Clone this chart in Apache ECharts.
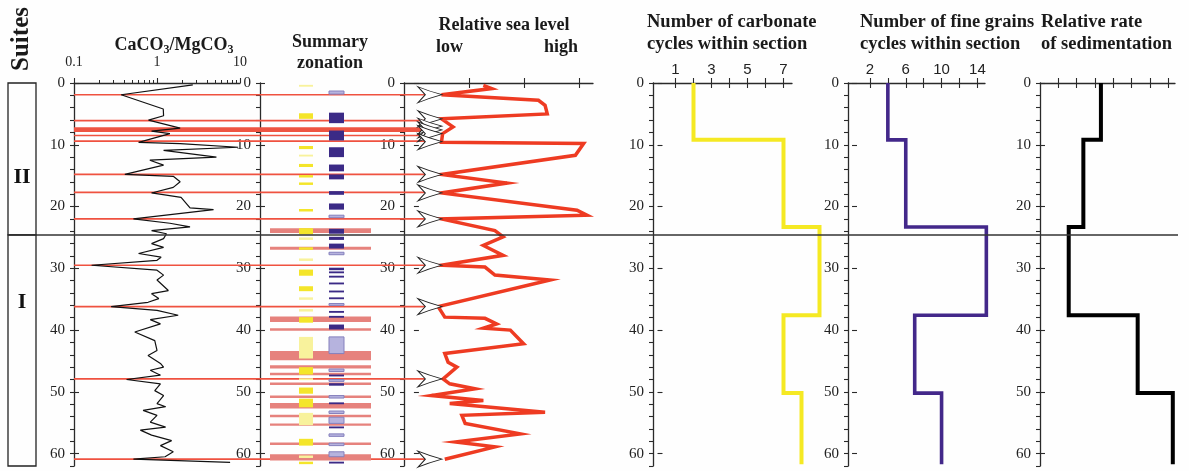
<!DOCTYPE html>
<html><head><meta charset="utf-8">
<script src="https://cdn.jsdelivr.net/npm/echarts@6/dist/echarts.min.js"></script>
<style>html,body{margin:0;padding:0;background:#fefefe}#c{width:1189px;height:471px}</style>
</head><body><div id="c"></div>
<script>
// ---------------- DATA ----------------
const DEPTH_MAX = 62;
const depthTickLabels = [0, 10, 20, 30, 40, 50, 60];
const suiteNames = ['II', 'I'];
const suiteIntervals = [[0, 24.6, 15.2], [24.6, 62, 35.5]]; // top, bottom, label depth

// CaCO3/MgCO3 ratio profile: [depth, ratio]
const caMgProfile = [
  [0.3,2.7],[1.9,0.37],[4.2,1.19],[5.3,1.2],[6.0,0.79],[7.3,1.9],[7.8,0.86],[8.2,1.43],[9.6,0.6],[9.8,1.9],
  [10.4,9.5],[10.9,1.2],[12.0,5.2],[12.5,0.82],[13.3,1.2],[14.8,0.41],[15.1,1.57],[16.0,1.9],[16.9,1.57],[17.8,0.86],
  [18.5,1.95],[20.2,2.5],[20.5,4.8],[22.0,0.52],[22.7,1.43],[23.3,2.5],[23.9,0.86],[24.4,1.3],[25.2,1.2],[26.0,0.86],
  [26.6,1.2],[27.6,0.6],[28.2,1.12],[28.7,1.0],[29.5,0.163],[30.3,1.0],[31.1,1.2],[31.9,1.0],[33.6,1.37],[34.1,0.86],
  [34.9,1.05],[35.5,0.78],[36.2,0.28],[36.8,1.0],[37.6,1.8],[38.3,0.83],[39.0,1.1],[40.3,0.54],[41.7,0.94],[43.3,1.0],
  [44.1,0.78],[45.4,1.1],[46.0,1.2],[46.5,0.83],[47.3,1.1],[48.0,0.43],[48.7,1.1],[49.8,0.94],[50.6,1.2],[51.9,1.0],
  [52.4,1.27],[53.0,0.68],[53.8,1.0],[54.9,0.83],[55.7,1.27],[56.2,0.63],[57.0,0.86],[57.9,1.5],[58.7,1.1],[59.7,1.57],
  [60.5,1.25],[60.9,0.52],[61.4,7.6]
];
const caMgTickLabels = [0.1, 1, 10];
const caMgMinorTicks = [0.2,0.3,0.4,0.5,0.6,0.7,0.8,0.9,2,3,4,5,6,7,8,9];

// Summary zonation intervals [top, bottom]
const yellowStrong = [[4.9,5.8],[10.2,10.7],[13.1,13.6],[14.9,15.3],[16.1,16.5],[20.4,20.8],[23.5,24.5],[26.6,27.0],
  [30.2,31.2],[32.9,33.7],[37.9,38.8],[46.0,47.2],[49.3,50.3],[51.1,52.5],[57.6,58.7],[61.3,61.7]];
const yellowPale = [[0.3,0.6],[11.6,11.9],[25.0,25.4],[28.4,28.8],[34.7,35.1],[36.6,37.0],[41.1,44.6],[47.8,48.1],
  [53.4,55.4],[60.3,60.7]];
const purpleStrong = [[4.8,6.5],[7.7,9.3],[10.4,12.0],[13.2,14.3],[14.8,15.6],[17.5,18.1],[19.5,20.5],[23.6,24.4],
  [24.9,25.4],[26.0,26.8],[29.9,30.3],[30.5,30.8],[31.2,31.5],[32.3,32.6],[33.6,33.9],[34.7,35.0],[36.9,37.2],
  [37.7,38.0],[39.1,39.9],[47.2,47.5],[48.6,49.0],[51.7,52.0],[55.6,55.9],[61.3,61.6]];
const purplePale = [[1.3,1.8],[21.4,21.8],[27.4,27.8],[35.7,36.0],[41.1,43.8],[46.3,46.7],[48.0,48.3],[50.6,51.0],
  [53.1,53.5],[54.1,55.1],[56.8,57.2],[58.3,58.7],[59.7,60.5]];
const pinkBars = [[23.5,24.3],[26.5,27.0],[37.8,38.7],[39.7,40.1],[43.4,44.9],[45.7,46.2],[46.9,47.3],[48.5,48.9],
  [50.6,51.0],[51.8,52.7],[53.7,54.1],[55.1,55.5],[58.2,58.6],[60.1,61.1]];

// Lowstand marker lines and band (depths)
const lowstandLines = [1.9, 6.1, 8.5, 9.4, 14.8, 17.7, 22.0, 29.5, 36.2, 47.9, 60.9];
const lowstandBand = [[7.15, 7.95]];

// Relative sea level: [depth, level]
const seaLevel = [
  [0.4,1.26],[0.9,1.41],[1.9,0.50],[2.8,2.26],[3.6,2.38],[5.0,2.42],[5.8,0.50],[7.1,0.71],[8.2,0.52],[9.6,0.50],
  [9.8,3.08],[11.7,2.93],[14.8,0.50],[16.2,1.69],[17.8,0.50],[20.6,2.96],[21.4,3.14],[22.0,0.50],[23.9,1.47],
  [24.9,1.62],[26.3,1.26],[27.9,1.62],[29.5,0.50],[29.8,1.29],[31.1,1.47],[31.9,2.47],[36.2,0.44],[37.9,0.56],
  [38.1,1.29],[39.0,1.50],[39.7,1.26],[40.0,1.75],[42.2,1.99],[43.8,0.56],[45.2,0.62],[46.0,0.78],[47.9,0.53],
  [48.7,0.65],[49.5,1.11],[50.6,0.32],[51.4,1.26],[51.9,0.65],[53.3,2.38],[53.8,0.87],[55.1,0.93],[56.8,1.93],
  [58.1,0.75],[58.9,1.47],[60.9,0.56]
];
const lowstandArrows = [1.9, 5.8, 7.0, 7.6, 8.2, 9.5, 14.8, 17.8, 22.0, 29.5, 36.2, 47.9, 60.9];

// Step profiles
const stepBreaks = [0, 9.2, 23.3, 37.6, 50.2, 61.7];
const carbonateCycles = [2, 7, 9, 7, 8];
const fineGrainCycles = [4, 6, 15, 7, 10];
const sedimentationRate = [3.33, 2.37, 1.57, 5.34, 7.26];
const carbonateTicks = [1, 2, 3, 4, 5, 6, 7];
const carbonateLabels = [1, 3, 5, 7];
const fineTicks = [2, 4, 6, 8, 10, 12, 14];
const fineLabels = [2, 6, 10, 14];
const rateTicks = [1, 2, 3, 4, 5, 6, 7];
const seaTicks = [1, 2, 3];

// ---------------- STYLE / LAYOUT ----------------
const SERIF = '"Liberation Serif", "DejaVu Serif", serif';
const SANS = '"Liberation Sans", Arial, sans-serif';
const AXIS = '#2a2a2a';
const TOP = 83, HEIGHT = 383;
const gridDefs = [
  {left: 74, width: 166},   // 0 CaCO3/MgCO3
  {left: 260, width: 144},  // 1 zonation
  {left: 404, width: 189},  // 2 sea level
  {left: 653, width: 139},  // 3 carbonate cycles (axes)
  {left: 848, width: 137},  // 4 fine grain cycles (axes)
  {left: 1040, width: 135}, // 5 sedimentation
  {left: 8, width: 28},     // 6 suites
  {left: 74, width: 352},   // 7 lowstand overlay
  {left: 8, width: 1170},   // 8 boundary overlay
  {left: 653, width: 180},  // 9 carbonate plot area (same scale, wider)
  {left: 848, width: 153}   // 10 fine grain plot area (same scale, wider)
];
const grid = gridDefs.map(g => ({left: g.left, width: g.width, top: TOP, height: HEIGHT, containLabel: false, outerBoundsMode: 'none'}));

const xAxes = [], yAxes = [];
const addX = c => (xAxes.push(c), xAxes.length - 1);
const addY = c => (yAxes.push(c), yAxes.length - 1);
const evens = []; for (let d = 0; d <= DEPTH_MAX; d += 2) evens.push(d);

function depthY(g, visible) {
  if (!visible) return addY({type: 'value', gridIndex: g, inverse: true, min: 0, max: DEPTH_MAX, show: false});
  const main = {type: 'value', gridIndex: g, inverse: true, min: 0, max: DEPTH_MAX, position: 'left',
    axisLine: {show: true, onZero: false, lineStyle: {color: AXIS, width: 1.3}},
    axisTick: {show: true, length: 4, customValues: evens, lineStyle: {color: AXIS, width: 1.1}},
    axisLabel: {show: true, customValues: depthTickLabels, margin: 9, fontFamily: SERIF, fontSize: 15, color: '#222'},
    splitLine: {show: false}};
  const idx = addY(main);
  addY(Object.assign({}, main, {axisLine: {show: false},
    axisTick: {show: true, inside: true, length: 5, customValues: depthTickLabels, lineStyle: {color: AXIS, width: 1.1}},
    axisLabel: {show: false}}));
  return idx;
}
function topX(g, min, max, ticks, labels) {
  const main = {type: 'value', gridIndex: g, min, max, position: 'top',
    axisLine: {show: true, onZero: false, lineStyle: {color: AXIS, width: 1.3}},
    axisTick: {show: true, length: 5, customValues: ticks, lineStyle: {color: AXIS, width: 1.1}},
    axisLabel: labels ? {show: true, customValues: labels, margin: 6, fontFamily: SANS, fontSize: 15, color: '#222'} : {show: false},
    splitLine: {show: false}};
  const idx = addX(main);
  addX(Object.assign({}, main, {axisLine: {show: false},
    axisTick: {show: true, inside: true, length: 5, customValues: ticks, lineStyle: {color: AXIS, width: 1.1}},
    axisLabel: {show: false}}));
  return idx;
}
function hiddenX(g, min, max) { return addX({type: 'value', gridIndex: g, min, max, show: false}); }

// axes
const xCa = addX({type: 'log', logBase: 10, gridIndex: 0, min: 0.1, max: 10, position: 'top',
  axisLine: {show: true, onZero: false, lineStyle: {color: AXIS, width: 1.3}},
  axisTick: {show: true, length: 5, customValues: caMgTickLabels, lineStyle: {color: AXIS, width: 1.1}},
  axisLabel: {show: true, customValues: caMgTickLabels, margin: 14, fontFamily: SERIF, fontSize: 14, color: '#222',
    formatter: v => String(v)},
  splitLine: {show: false}});
addX({type: 'log', logBase: 10, gridIndex: 0, min: 0.1, max: 10, position: 'top',
  axisLine: {show: false}, axisLabel: {show: false}, splitLine: {show: false},
  axisTick: {show: true, length: 3, customValues: caMgMinorTicks, lineStyle: {color: AXIS, width: 1}}});
const yCa = depthY(0, true);
const xZon = hiddenX(1, 0, 144);
const yZon = depthY(1, true);
const xSea = topX(2, -0.18, 3.25, seaTicks, null);
const ySea = depthY(2, true);
topX(3, -0.25, 7.47, carbonateTicks, carbonateLabels);
depthY(3, true);
topX(4, -0.45, 14.85, fineTicks, fineLabels);
depthY(4, true);
const xRate = topX(5, 0, 7.38, rateTicks, null);
const yRate = depthY(5, true);
const xSuite = hiddenX(6, 0, 1);
const ySuite = depthY(6, false);
const xOver = hiddenX(7, 0, 1);
const yOver = depthY(7, false);
const xBound = hiddenX(8, 0, 1);
const yBound = depthY(8, false);
const xCarb = hiddenX(9, -0.25, -0.25 + 180 / 18.0);
const yCarb = depthY(9, false);
const xFine = hiddenX(10, -0.45, -0.45 + 153 / (137 / 15.3));
const yFine = depthY(10, false);

// ---------------- SERIES ----------------
function zonationRects(data, x0, x1, fill, stroke, z) {
  return {type: 'custom', coordinateSystem: 'cartesian2d', xAxisIndex: xZon, yAxisIndex: yZon, z, silent: true,
    data, encode: {y: [0, 1]},
    renderItem(p, api) {
      const a = api.coord([x0, api.value(0)]), b = api.coord([x1, api.value(1)]);
      return {type: 'rect', shape: {x: a[0], y: a[1], width: b[0] - a[0], height: Math.max(b[1] - a[1], 1.8)},
        style: {fill, stroke: stroke || null, lineWidth: stroke ? 1 : 0}};
    }};
}
function stepData(vals) {
  const pts = [];
  vals.forEach((v, i) => { pts.push([v, stepBreaks[i]]); pts.push([v, stepBreaks[i + 1]]); });
  return pts;
}
function stepSeries(xi, yi, vals, color, width) {
  return {type: 'line', xAxisIndex: xi, yAxisIndex: yi, data: stepData(vals), showSymbol: false, symbol: 'none',
    clip: false, z: 4, lineStyle: {color, width, join: 'miter', cap: 'butt'}, silent: true};
}

const series = [
  {type: 'custom', coordinateSystem: 'cartesian2d', xAxisIndex: xOver, yAxisIndex: yOver, z: 1, silent: true,
    data: lowstandLines.map(d => [d]), encode: {y: 0},
    renderItem(p, api) {
      const a = api.coord([0, api.value(0)]), b = api.coord([1, api.value(0)]);
      return {type: 'line', shape: {x1: a[0], y1: a[1], x2: b[0], y2: b[1]}, style: {stroke: '#ef5240', lineWidth: 1.7}};
    }},
  {type: 'custom', coordinateSystem: 'cartesian2d', xAxisIndex: xOver, yAxisIndex: yOver, z: 1, silent: true,
    data: lowstandBand, encode: {y: [0, 1]},
    renderItem(p, api) {
      const a = api.coord([0, api.value(0)]), b = api.coord([1, api.value(1)]);
      return {type: 'rect', shape: {x: a[0], y: a[1], width: b[0] - a[0], height: b[1] - a[1]}, style: {fill: '#ee5442'}};
    }},
  zonationRects(pinkBars, 10, 111, '#e6827d', null, 2),
  zonationRects(yellowPale, 39, 53, '#f8f29c', null, 3),
  zonationRects(yellowStrong, 39, 53, '#f4e52a', null, 3),
  zonationRects(purplePale, 69, 84, '#b6b3de', '#8580bd', 3),
  zonationRects(purpleStrong, 69, 84, '#3b2a86', null, 3),
  {type: 'line', xAxisIndex: xCa, yAxisIndex: yCa, data: caMgProfile.map(r => [r[1], r[0]]), showSymbol: false,
    symbol: 'none', clip: false, z: 4, silent: true, lineStyle: {color: '#111', width: 1.2}},
  {type: 'line', xAxisIndex: xSea, yAxisIndex: ySea, data: seaLevel.map(r => [r[1], r[0]]), showSymbol: false,
    symbol: 'none', clip: false, z: 4, silent: true, lineStyle: {color: '#ee3b22', width: 3.5, join: 'miter'}},
  {type: 'scatter', xAxisIndex: xSea, yAxisIndex: ySea, z: 6, silent: true,
    data: lowstandArrows.map(d => [0.29, d]),
    symbol: 'path://M0,0 Q12,5 26,9 Q12,13 0,18 L8,9 Z', symbolSize: [24, 16],
    itemStyle: {color: '#ffffff', borderColor: '#222', borderWidth: 1, opacity: 1}},
  stepSeries(xCarb, yCarb, carbonateCycles, '#f5e923', 4),
  stepSeries(xFine, yFine, fineGrainCycles, '#43288a', 3.6),
  stepSeries(xRate, yRate, sedimentationRate, '#000000', 4),
  {type: 'custom', coordinateSystem: 'cartesian2d', xAxisIndex: xSuite, yAxisIndex: ySuite, z: 4, silent: true,
    data: suiteIntervals, encode: {y: [0, 1]},
    renderItem(p, api) {
      const a = api.coord([0, api.value(0)]), b = api.coord([1, api.value(1)]), c = api.coord([0.5, api.value(2)]);
      return {type: 'group', children: [
        {type: 'rect', shape: {x: a[0], y: a[1], width: b[0] - a[0], height: b[1] - a[1]},
          style: {fill: 'none', stroke: '#222', lineWidth: 1.3}},
        {type: 'text', x: c[0], y: c[1], style: {text: suiteNames[p.dataIndex], fontFamily: SERIF, fontWeight: 'bold',
          fontSize: 22, fill: '#111', align: 'center', verticalAlign: 'middle'}}
      ]};
    }},
  {type: 'custom', coordinateSystem: 'cartesian2d', xAxisIndex: xBound, yAxisIndex: yBound, z: 7, silent: true,
    data: [[suiteIntervals[1][0]]], encode: {y: 0},
    renderItem(p, api) {
      const a = api.coord([0, api.value(0)]), b = api.coord([1, api.value(0)]);
      return {type: 'line', shape: {x1: a[0], y1: a[1], x2: b[0], y2: b[1]}, style: {stroke: '#333', lineWidth: 1.4}};
    }}
];

// ---------------- TEXT ----------------
function txt(text, x, y, align, size, extra) {
  return Object.assign({type: 'text', x, y, z: 10, silent: true,
    style: {text, fontFamily: SERIF, fontWeight: 'bold', fontSize: size, fill: '#1a1a1a', align, verticalAlign: 'middle'}}, extra || {});
}
const graphic = [
  txt('Suites', 22, 39, 'center', 25, {rotation: Math.PI / 2}),
  {type: 'text', x: 174, y: 45, z: 10, silent: true, style: {text: 'CaCO{s|3}/MgCO{s|3}', fontFamily: SERIF,
    fontWeight: 'bold', fontSize: 18, fill: '#1a1a1a', align: 'center', verticalAlign: 'middle',
    rich: {s: {fontFamily: SERIF, fontWeight: 'bold', fontSize: 12, fill: '#1a1a1a', padding: [9, 0, 0, 0]}}}},
  txt('Summary', 330, 42, 'center', 18),
  txt('zonation', 330, 63, 'center', 18),
  txt('Relative sea level', 504, 25, 'center', 18),
  txt('low', 436, 47, 'left', 18),
  txt('high', 578, 47, 'right', 18),
  txt('Number of carbonate', 647, 22, 'left', 18.5),
  txt('cycles within section', 647, 44, 'left', 18.5),
  txt('Number of fine grains', 860, 22, 'left', 18.5),
  txt('cycles within section', 860, 44, 'left', 18.5),
  txt('Relative rate', 1041, 22, 'left', 18.5),
  txt('of sedimentation', 1041, 44, 'left', 18.5)
];

const chart = echarts.init(document.getElementById('c'), null, {renderer: 'canvas'});
chart.setOption({backgroundColor: '#fefefe', animation: false, grid, xAxis: xAxes, yAxis: yAxes, series, graphic});
</script></body></html>
